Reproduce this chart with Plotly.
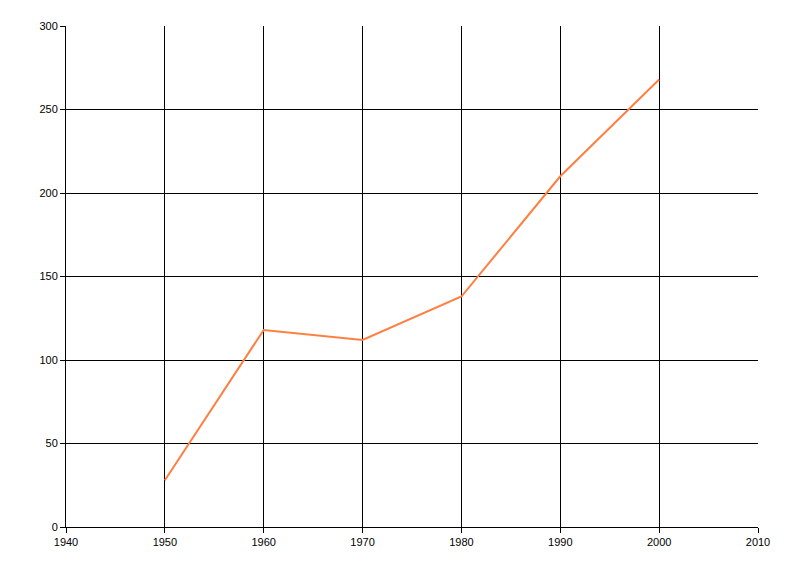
import plotly.graph_objects as go

years = [1950, 1960, 1970, 1980, 1990, 2000]
values = [28, 118, 112, 138, 210, 268]

fig = go.Figure()
fig.add_trace(go.Scatter(x=years, y=values, mode="lines",
                         line=dict(color="#FF7F40", width=2), showlegend=False))

axis_common = dict(showgrid=True, gridcolor="black", gridwidth=1,
                   showline=True, linecolor="black", linewidth=1,
                   ticks="outside", ticklen=5, tickcolor="black",
                   zeroline=False, mirror=False,
                   tickfont=dict(family="Liberation Sans, Arial, sans-serif", size=11, color="black"))

fig.update_xaxes(range=[1940, 2010], tickmode="linear", tick0=1940, dtick=10, **axis_common)
fig.update_yaxes(range=[0, 300], tickmode="linear", tick0=0, dtick=50, **axis_common)

fig.update_layout(width=800, height=576, margin=dict(l=58, r=50, t=18, b=57),
                  paper_bgcolor="white", plot_bgcolor="white")

fig.write_html("out.html")
